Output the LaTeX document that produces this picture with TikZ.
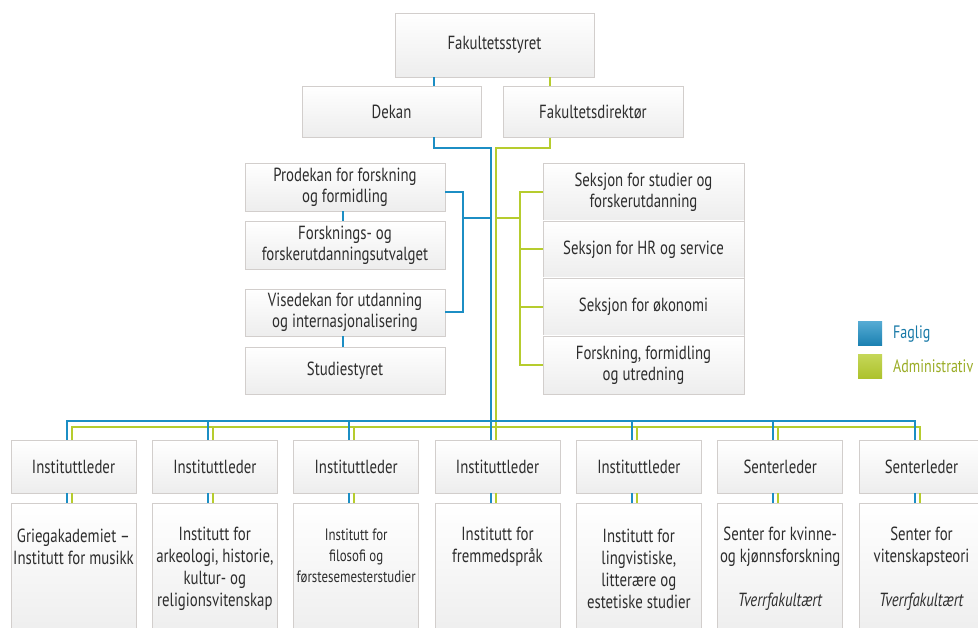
\documentclass[tikz,border=0pt]{standalone}
\usepackage{fontspec}
\setmainfont[FakeStretch=0.78]{PT Sans}
\definecolor{fblue}{RGB}{28,142,196}
\definecolor{fgreen}{RGB}{182,204,46}
\definecolor{ftext}{RGB}{45,45,45}
\definecolor{fborder}{RGB}{210,206,204}
\begin{document}
\begin{tikzpicture}[x=1pt,y=-1pt,
  box/.style={draw=fborder, line width=0.6pt, top color=white, bottom color=black!7,
    text=ftext, font=\fontsize{19}{21}\selectfont, align=center, inner sep=0pt},
  txt/.style={text=ftext, font=\fontsize{19}{22}\selectfont, align=center, inner sep=0pt},
  bl/.style={draw=fblue, line width=2pt},
  gr/.style={draw=fgreen, line width=2pt}]
\useasboundingbox (0,0) rectangle (978,628);
\fill[white] (0,0) rectangle (978,628);
\clip (0,0) rectangle (978,628);

% top
\node[box, minimum width=199pt, minimum height=64pt] (F) at (494.5,45) {Fakultetsstyret};
\node[box, minimum width=179pt, minimum height=51pt] (Dek) at (391.5,111.5) {Dekan};
\node[box, minimum width=180pt, minimum height=51pt] (Dir) at (593,112) {Fakultetsdirektør};

% left column
\node[box, minimum width=200pt, minimum height=48pt] (P) at (345,187) {Prodekan for forskning\\og formidling};
\node[box, minimum width=200pt, minimum height=48pt] (FU) at (345,245) {Forsknings- og\\forskerutdanningsutvalget};
\node[box, minimum width=200pt, minimum height=47pt] (V) at (345,312.5) {Visedekan for utdanning\\og internasjonalisering};
\node[box, minimum width=200pt, minimum height=47pt] (S) at (345,370.5) {Studiestyret};

% right column
\node[box, minimum width=201pt, minimum height=58pt] (R1) at (643.5,192) {Seksjon for studier og\\forskerutdanning};
\node[box, minimum width=201pt, minimum height=57pt] (R2) at (643.5,249.5) {Seksjon for HR og service};
\node[box, minimum width=201pt, minimum height=58pt] (R3) at (643.5,307) {Seksjon for økonomi};
\node[box, minimum width=201pt, minimum height=58pt] (R4) at (643.5,365) {Forskning, formidling\\og utredning};

% leaders and units
\foreach \i/\t in {1/Instituttleder,2/Instituttleder,3/Instituttleder,4/Instituttleder,5/Instituttleder,6/Senterleder,7/Senterleder}{
  \node[box, minimum width=125pt, minimum height=53pt] (L\i) at ({73.5+141.333*(\i-1)},466.5) {\t};
  \node[box, minimum width=125pt, minimum height=137pt] (B\i) at ({73.5+141.333*(\i-1)},571.5) {};
  \path (L\i.north) ++(-7,0) coordinate (b\i);
  \path (L\i.north) ++(-2,0) coordinate (g\i);
}
\node[txt] (T1) at (73.5,547) {Griegakademiet –\\Institutt for musikk};
\node[txt] (T2) at (214.83,569) {Institutt for\\arkeologi, historie,\\kultur- og\\religionsvitenskap};
\node[txt, font=\fontsize{16.5}{21}\selectfont] (T3) at (356.17,556) {Institutt for\\filosofi og\\førstesemesterstudier};
\node[txt] (T4) at (497.5,547) {Institutt for\\fremmedspråk};
\node[txt] (T5) at (638.83,569) {Institutt for\\lingvistiske,\\litterære og\\estetiske studier};
\node[txt] (T6) at (780.17,569) {Senter for kvinne-\\og kjønnsforskning\\[22pt]\textit{Tverrfakultært}};
\node[txt] (T7) at (921.5,569) {Senter for\\vitenskapsteori\\[22pt]\textit{Tverrfakultært}};

% helper coordinates
\coordinate (bD) at (434,0);
\coordinate (gD) at (550,0);
\coordinate (jn) at (0,148);
\coordinate (bB) at (463,0);
\coordinate (gB) at (520,0);
\coordinate (mid) at (0,218);
\coordinate (pb) at (0,192);
\coordinate (barB) at (0,421);
\coordinate (barG) at (0,427);
\coordinate (lnk) at (343,0);

% green (administrativ)
\draw[gr] (F.south -| gD) -- (Dir.north -| gD);
\draw[gr] (Dir.south -| gD) |- (g4 |- jn) -- (g4);
\draw[gr] (g4 |- mid) -- (gB |- mid);
\draw[gr] (R1.west) -- (gB |- R1.west) -- (gB |- R4.west) -- (R4.west);
\draw[gr] (gB |- R2.west) -- (R2.west);
\draw[gr] (gB |- R3.west) -- (R3.west);
\draw[gr] (g1) -- (g1 |- barG) -- (g7 |- barG) -- (g7);
\foreach \i in {2,3,5,6}{\draw[gr] (g\i |- barG) -- (g\i);}
\foreach \i in {1,...,7}{\draw[gr] (L\i.south -| g\i) -- (B\i.north -| g\i);}

% blue (faglig)
\draw[bl] (F.south -| bD) -- (Dek.north -| bD);
\draw[bl] (Dek.south -| bD) |- (b4 |- jn) -- (b4);
\draw[bl] (P.east |- pb) -- (bB |- pb) |- (V.east);
\draw[bl] (bB |- mid) -- (b4 |- mid);
\draw[bl] (P.south -| lnk) -- (FU.north -| lnk);
\draw[bl] (V.south -| lnk) -- (S.north -| lnk);
\draw[bl] (b1) -- (b1 |- barB) -- (b7 |- barB) -- (b7);
\foreach \i in {2,3,5,6}{\draw[bl] (b\i |- barB) -- (b\i);}
\foreach \i in {1,...,7}{\draw[bl] (L\i.south -| b\i) -- (B\i.north -| b\i);}

% legend
\node[minimum size=24pt, inner sep=0pt, top color=fblue!75!white, bottom color=fblue!90!black] (LB) at (870,334) {};
\node[minimum size=24pt, inner sep=0pt, top color=fgreen!80!white, bottom color=fgreen!95!black] (LG) at (870,366.5) {};
\node[anchor=west, inner sep=0pt, text=fblue!85!black, font=\fontsize{18}{21}\selectfont] (LBt) at (893,334) {Faglig};
\node[anchor=west, inner sep=0pt, text=fgreen!85!black, font=\fontsize{18}{21}\selectfont] (LGt) at (893,366.5) {Administrativ};
\end{tikzpicture}
\end{document}
